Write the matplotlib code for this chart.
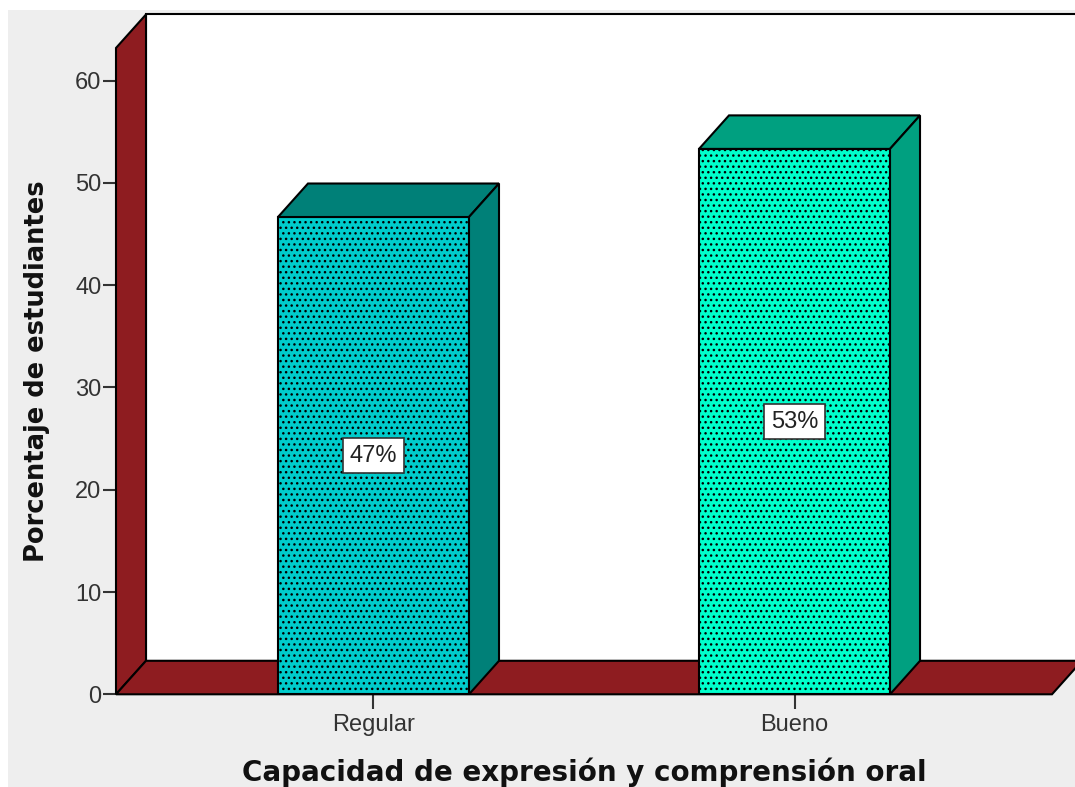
import matplotlib
matplotlib.use('Agg')
import matplotlib.pyplot as plt
from matplotlib.patches import Rectangle

# values
categories = ['Regular', 'Bueno']
percentages = [46.67, 53.33]
point_labels = ['47%', '53%']
y_ticks = [0, 10, 20, 30, 40, 50, 60]

front_colors = ['#00CCCC', '#00FFCC']
dark_colors = ['#008078', '#00A080']
wall_color = '#8E1C20'
grey = '#EEEEEE'
ink = '#333333'

W, H = 1075, 787
bar_width = 0.4537
depth_x = 30 / 421
depth_y = 33.5 / 10.227
x_min, x_max = -0.6116, 1.6116
y_top = 63.2
lw = 1.5

plt.rcParams['font.family'] = ['Liberation Sans', 'DejaVu Sans']
plt.rcParams['hatch.linewidth'] = 1.0

fig = plt.figure(figsize=(W / 100, H / 100), dpi=100, facecolor='white')
fig.patches.append(Rectangle((8 / W, 0), 1, 1 - 10 / H, transform=fig.transFigure,
                             facecolor=grey, edgecolor='none', figure=fig, zorder=-1))

ax = fig.add_axes([116 / W, 1 - 694.3 / H, (1052 - 116) / W, y_top * 10.227 / H])
ax.patch.set_visible(False)
ax.set_xlim(x_min, x_max)
ax.set_ylim(0, y_top)
for s in ax.spines.values():
    s.set_visible(False)

# back wall, left wall, floor
ax.fill([x_min + depth_x, x_max + 0.2, x_max + 0.2, x_min + depth_x],
        [depth_y, depth_y, y_top + depth_y, y_top + depth_y],
        facecolor='white', edgecolor='black', lw=lw, clip_on=False, zorder=1)
ax.fill([x_min, x_min + depth_x, x_min + depth_x, x_min],
        [0, depth_y, y_top + depth_y, y_top],
        facecolor=wall_color, edgecolor='black', lw=lw, clip_on=False, zorder=2)
ax.fill([x_min, x_max, x_max + depth_x, x_min + depth_x],
        [0, 0, depth_y, depth_y],
        facecolor=wall_color, edgecolor='black', lw=lw, clip_on=False, zorder=2)

# bars: front with the dotted fill, then top and side faces
xs = list(range(len(categories)))
ax.bar(xs, percentages, width=bar_width, color=front_colors, edgecolor='black',
       linewidth=lw, hatch='...', zorder=3)
for x, v, dark in zip(xs, percentages, dark_colors):
    l, r = x - bar_width / 2, x + bar_width / 2
    ax.fill([l, r, r + depth_x, l + depth_x], [v, v, v + depth_y, v + depth_y],
            facecolor=dark, edgecolor='black', lw=lw, zorder=3)
    ax.fill([r, r + depth_x, r + depth_x, r], [0, depth_y, v + depth_y, v],
            facecolor=dark, edgecolor='black', lw=lw, zorder=3)

for x, v, t in zip(xs, percentages, point_labels):
    ax.text(x, v / 2, t, ha='center', va='center', fontsize=17, color='#222222', zorder=5,
            bbox=dict(boxstyle='square,pad=0.27', facecolor='white', edgecolor='#333333', lw=1.2))

ax.set_yticks(y_ticks)
ax.set_xticks(xs)
ax.set_xticklabels(categories)
ax.tick_params(axis='y', length=9.5, width=1.5, color=ink, labelsize=17, labelcolor=ink, pad=1)
ax.tick_params(axis='x', length=11, width=1.5, color=ink, labelsize=17, labelcolor=ink, pad=3)

fig.text(584 / W, 1 - 772 / H, 'Capacidad de expresión y comprensión oral', ha='center', va='center',
         fontsize=20, fontweight='bold', family='DejaVu Sans', color='#111111')
fig.text(37 / W, 1 - 371 / H, 'Porcentaje de estudiantes', ha='center', va='center', rotation=90,
         fontsize=18.5, fontweight='bold', family='DejaVu Sans', color='#111111')

fig.savefig('out.png', dpi=100)
